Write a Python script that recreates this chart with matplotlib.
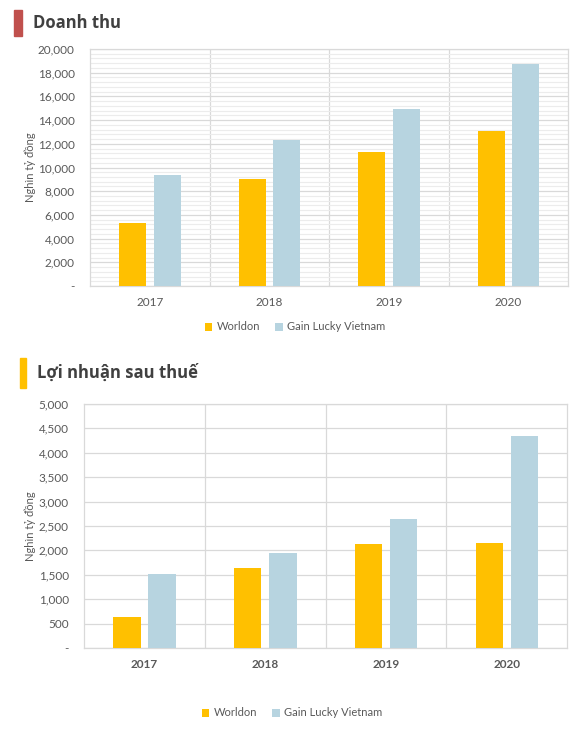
import matplotlib
matplotlib.use("Agg")
import matplotlib.pyplot as plt
import numpy as np
from matplotlib.ticker import FuncFormatter, MultipleLocator, FixedLocator

years = ["2017", "2018", "2019", "2020"]
series_names = ["Worldon", "Gain Lucky Vietnam"]
revenue_worldon = [5300, 9050, 11300, 13100]
revenue_gainlucky = [9400, 12350, 14900, 18700]
profit_worldon = [640, 1640, 2140, 2160]
profit_gainlucky = [1520, 1950, 2650, 4350]

C_W = "#ffc000"
C_G = "#b7d4e0"
GRID = "#d9d9d9"
MINOR = "#ececec"
TXT = "#595959"
TITLE = "#404040"

plt.rcParams['font.family'] = ['Lato', 'DejaVu Sans']

fig = plt.figure(figsize=(5.83, 7.33), dpi=100)

def fmt(v, pos):
    if abs(v) < 1e-9:
        return "-"
    return f"{int(v):,}"

def draw(ax, w, g, ymax, major, minor, boldx):
    x = np.arange(len(years))
    ax.bar(x - 0.144, w, width=0.226, color=C_W, zorder=3, label=series_names[0])
    ax.bar(x + 0.147, g, width=0.226, color=C_G, zorder=3, label=series_names[1])
    ax.set_xlim(-0.5, len(years) - 0.5)
    ax.set_ylim(0, ymax)
    ax.yaxis.set_major_locator(MultipleLocator(major))
    if minor:
        ax.yaxis.set_minor_locator(MultipleLocator(minor))
        ax.grid(axis='y', which='minor', color=MINOR, lw=0.8, zorder=0)
    ax.grid(axis='y', which='major', color=GRID, lw=0.9, zorder=1)
    ax.xaxis.set_minor_locator(FixedLocator([0.5, 1.5, 2.5]))
    ax.grid(axis='x', which='minor', color=GRID, lw=0.9, zorder=1)
    ax.set_xticks(x)
    ax.set_xticklabels(years, fontweight='bold' if boldx else 'normal')
    ax.yaxis.set_major_formatter(FuncFormatter(fmt))
    ax.tick_params(axis='both', which='both', length=0, colors=TXT, labelsize=8.5)
    ax.tick_params(axis='y', pad=11)
    ax.tick_params(axis='x', pad=8)
    for s in ax.spines.values():
        s.set_color(GRID)
        s.set_linewidth(0.9)
    ax.set_ylabel("Nghìn tỷ đồng", color=TXT, fontsize=8)

ax1 = fig.add_axes([90/583, 1-286/733, 478/583, 237/733])
draw(ax1, revenue_worldon, revenue_gainlucky, 20000, 2000, 400, False)
ax1.yaxis.set_label_coords(-0.113, 0.5)
ax1.legend(loc='center', bbox_to_anchor=(295/583, 1-327/733), bbox_transform=fig.transFigure,
           ncol=2, frameon=False, fontsize=8, handlelength=0.7, handleheight=0.7,
           columnspacing=1.3, handletextpad=0.4, labelcolor=TXT)

ax2 = fig.add_axes([84/583, 1-648/733, 483/583, 244/733])
draw(ax2, profit_worldon, profit_gainlucky, 5000, 500, None, True)
ax2.yaxis.set_label_coords(-0.100, 0.5)
ax2.legend(loc='center', bbox_to_anchor=(292/583, 1-713/733), bbox_transform=fig.transFigure,
           ncol=2, frameon=False, fontsize=8, handlelength=0.7, handleheight=0.7,
           columnspacing=1.3, handletextpad=0.4, labelcolor=TXT)

# Section titles with colored markers
fig.patches.append(plt.Rectangle((14/583, 1-36/733), 8/583, 26/733, transform=fig.transFigure,
                                 color="#c0504d", zorder=5))
fig.text(33/583, 1-23/733, "Doanh thu", fontsize=12, fontweight='bold', color=TITLE,
         va='center', ha='left', family=['Open Sans', 'DejaVu Sans'])
fig.patches.append(plt.Rectangle((20/583, 1-388/733), 6/583, 30/733, transform=fig.transFigure,
                                 color="#ffc000", zorder=5))
fig.text(37/583, 1-373/733, "Lợi nhuận sau thuế", fontsize=12, fontweight='bold', color=TITLE,
         va='center', ha='left', family=['Open Sans', 'DejaVu Sans'])

fig.savefig("out.png", dpi=100)
